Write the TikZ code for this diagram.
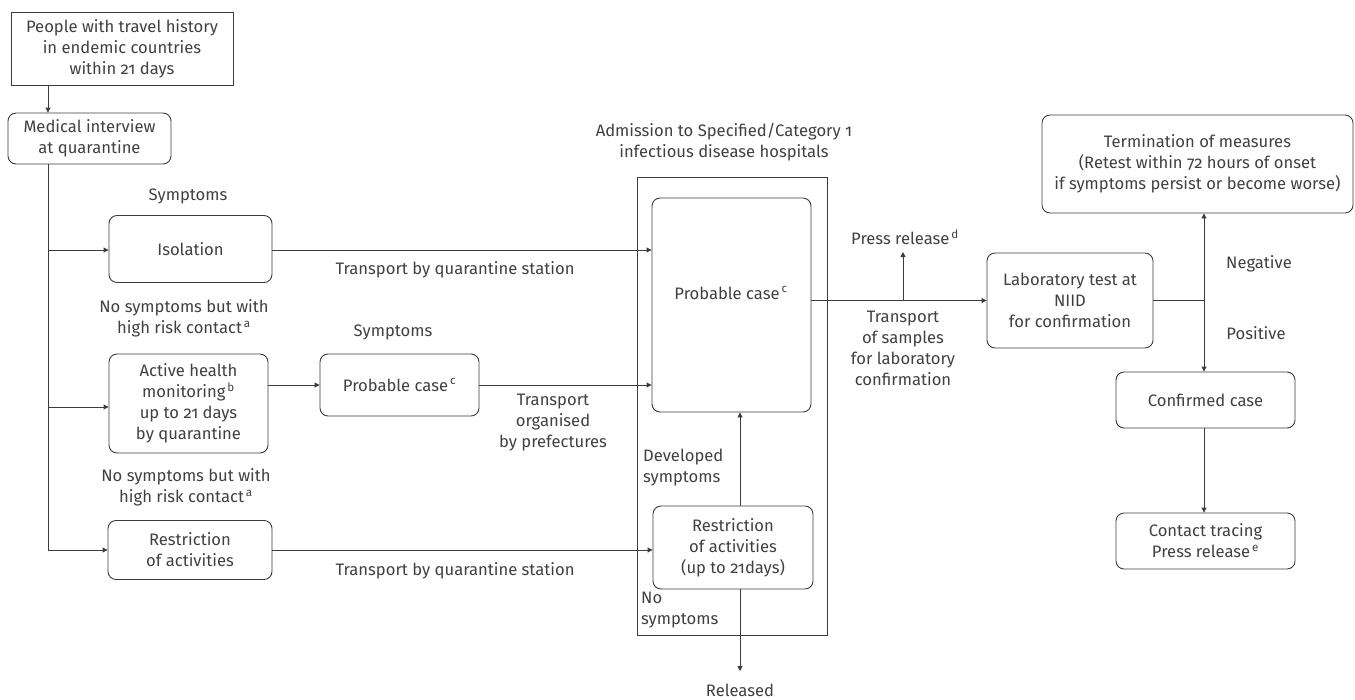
\documentclass[tikz,border=0pt]{standalone}
\usepackage{fontspec}
\setmainfont{Fira Sans}[Numbers=OldStyle]
\usetikzlibrary{arrows.meta}
\definecolor{ink}{HTML}{3C3C3C}
\definecolor{txt}{HTML}{404040}
\tikzset{
  base/.style={font=\fontsize{16.6}{21}\selectfont, text=txt, align=center, inner sep=0pt},
  rbox/.style={base, draw=ink, line width=0.9pt, rounded corners=8pt},
  sbox/.style={base, draw=ink, line width=0.9pt},
  lbl/.style={base},
  conn/.style={draw=ink, line width=0.9pt},
  arr/.style={conn, -{Triangle[length=5pt,width=5pt]}},
}
\newcommand{\sps}[1]{\textsuperscript{\,#1}}
\begin{document}
\begin{tikzpicture}[x=1pt,y=-1pt]
\useasboundingbox (0,0) rectangle (1355,699);
% boxes
\node[sbox, minimum width=222pt, minimum height=73pt] (top) at (122,48.5) {People with travel history\\in endemic countries\\within 21 days};
\node[rbox, minimum width=163pt, minimum height=51pt] (med) at (89.5,138.5) {Medical interview\\at quarantine};
\node[rbox, minimum width=163pt, minimum height=67pt] (iso) at (190.5,249) {Isolation};
\node[rbox, minimum width=159pt, minimum height=99pt] (act) at (188.5,403.5) {Active health\\monitoring\sps{b}\\up to 21 days\\by quarantine};
\node[rbox, minimum width=159pt, minimum height=62pt] (prob2) at (399.5,385) {Probable case\sps{c}};
\node[rbox, minimum width=164pt, minimum height=59pt] (res) at (190,550) {Restriction\\of activities};
\draw[conn] (637,177) rectangle (827,635);
\node[rbox, minimum width=159pt, minimum height=214pt] (prob1) at (731.5,305) {};
\node[lbl] (prob1t) at (731,293) {Probable case\sps{c}};
\node[rbox, minimum width=160pt, minimum height=83pt] (res2) at (733,547.5) {Restriction\\of activities\\(up to 21days)};
\node[rbox, minimum width=166pt, minimum height=95pt] (lab) at (1070,300.5) {Laboratory test at\\NIID\\for confirmation};
\node[rbox, minimum width=311pt, minimum height=98pt] (term) at (1197.5,164) {Termination of measures\\(Retest within 72 hours of onset\\if symptoms persist or become worse)};
\node[rbox, minimum width=179pt, minimum height=56pt] (conf) at (1205.5,400) {Confirmed case};
\node[rbox, minimum width=179pt, minimum height=56pt] (ct) at (1205.5,541) {Contact tracing\\Press release\sps{e}};
% labels
\node[lbl] (sym1) at (188,196) {Symptoms};
\node[lbl] (nos1) at (184,318.5) {No symptoms but with\\high risk contact\sps{a}};
\node[lbl] (nos2) at (186,487.5) {No symptoms but with\\high risk contact\sps{a}};
\node[lbl] (sym2) at (393,332) {Symptoms};
\node[lbl] (tr1) at (455,270) {Transport by quarantine station};
\node[lbl] (tr2) at (455,571) {Transport by quarantine station};
\node[lbl] (tr3) at (553,423) {Transport\\organised\\by prefectures};
\node[lbl] (adm) at (724,142) {Admission to Specified/Category 1\\infectious disease hospitals};
\node[lbl] (press) at (905,237) {Press release\sps{d}};
\node[lbl] (trs) at (903,348.5) {Transport\\of samples\\for laboratory\\confirmation};
\node[lbl, anchor=west, align=left] (dev) at (643,468) {Developed\\symptoms};
\node[lbl, anchor=west, align=left] (nos) at (641,610) {No\\symptoms};
\node[lbl] (rel) at (740,690) {Released};
\node[lbl] (neg) at (1259,264) {Negative};
\node[lbl] (pos) at (1256,333) {Positive};
% coordinates
\coordinate (tx) at (48,0);
\coordinate (t1) at (48,250);
\coordinate (t2) at (48,407);
\coordinate (t3) at (48,550);
\coordinate (relc) at (740,671);
\coordinate (pb) at (903,301);
\coordinate (pt) at (903,252);
\coordinate (j) at (1204,300.5);
% connectors
\draw[arr] (top.south -| tx) -- (med.north -| tx);
\draw[conn] (med.south -| tx) -- (t3);
\draw[arr] (t1) -- (t1 -| iso.west);
\draw[arr] (t2) -- (t2 -| act.west);
\draw[arr] (t3) -- (t3 -| res.west);
\draw[arr] (iso.east |- t1) -- (t1 -| prob1.west);
\draw[arr] (act.east |- prob2.west) -- (prob2.west);
\draw[arr] (prob2.east) -- (prob2.east -| prob1.west);
\draw[arr] (res.east) -- (res.east -| res2.west);
\draw[arr] (res2.north -| relc) -- (prob1.south -| relc);
\draw[arr] (res2.south -| relc) -- (relc);
\draw[arr] (prob1.east |- lab.west) -- (lab.west);
\draw[arr] (pb) -- (pt);
\draw[conn] (lab.east) -- (j);
\draw[arr] (j) -- (term.south -| j);
\draw[arr] (j) -- (conf.north -| j);
\draw[arr] (conf.south -| j) -- (ct.north -| j);
\end{tikzpicture}
\end{document}
